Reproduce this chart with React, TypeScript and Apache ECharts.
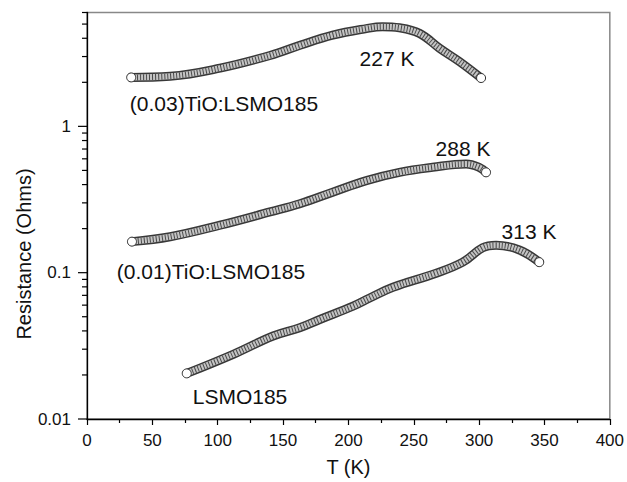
import React, { useEffect, useRef } from "react";
import * as echarts from "echarts";

// (0.03)TiO:LSMO185
const T_A = [33.8, 63.6, 101.8, 140, 162.9, 188, 213.7, 226, 239, 254.4, 269.7, 285, 301.5];
const R_A = [2.16, 2.2, 2.5, 3.05, 3.58, 4.2, 4.66, 4.8, 4.72, 4.32, 3.42, 2.77, 2.14];
// (0.01)TiO:LSMO185
const T_B = [34.4, 63.6, 101.8, 140, 162.9, 188, 213.7, 239, 264.4, 290, 300, 305.3];
const R_B = [0.163, 0.176, 0.211, 0.26, 0.296, 0.355, 0.426, 0.485, 0.525, 0.553, 0.525, 0.485];
// LSMO185
const T_C = [76.3, 111.9, 142.4, 162.8, 178.1, 203.5, 216.3, 234, 267.2, 287.5, 302.7, 313, 330.8, 346];
const R_C = [0.0205, 0.0277, 0.0369, 0.0421, 0.0479, 0.059, 0.0671, 0.0794, 0.0992, 0.118, 0.148, 0.154, 0.143, 0.118];

const X_TICKS_MIN = 0;
const X_TICKS_MAX = 400;
const X_INTERVAL = 50;
const Y_MIN = 0.01;
const Y_MAX = 6;
const Y_MAJOR = [0.01, 0.1, 1];
const Y_MINOR = [0.02, 0.03, 0.04, 0.05, 0.06, 0.07, 0.08, 0.09, 0.2, 0.3, 0.4, 0.5, 0.6, 0.7, 0.8, 0.9, 2, 3, 4, 5, 6];

const LABELS = [
  { text: "227 K", x: 387, y: 58 },
  { text: "(0.03)TiO:LSMO185", x: 224, y: 103 },
  { text: "288 K", x: 463, y: 148 },
  { text: "(0.01)TiO:LSMO185", x: 211, y: 271 },
  { text: "313 K", x: 529, y: 231 },
  { text: "LSMO185", x: 240, y: 396 },
];

const FONT = "Liberation Sans, Arial, Helvetica, sans-serif";

function pairs(t: number[], r: number[]) {
  return t.map((v, i) => [v, r[i]]);
}

function withEnds(t: number[], r: number[]) {
  const n = t.length;
  return t.map((v, i) => {
    if (i === 0 || i === n - 1) {
      return {
        value: [v, r[i]],
        symbol: "circle",
        symbolSize: 9,
        itemStyle: { color: "#fff", borderColor: "#333", borderWidth: 1 },
      };
    }
    return { value: [v, r[i]], symbol: "none" };
  });
}

function curveSeries(t: number[], r: number[]) {
  return [
    {
      type: "line",
      data: pairs(t, r),
      smooth: 0.4,
      showSymbol: false,
      lineStyle: { color: "#383838", width: 9, cap: "round" },
      silent: true,
      z: 2,
    },
    {
      type: "line",
      data: pairs(t, r),
      smooth: 0.4,
      showSymbol: false,
      lineStyle: { color: "#c4c4c4", width: 6, cap: "round" },
      silent: true,
      z: 3,
    },
    {
      type: "line",
      data: withEnds(t, r),
      smooth: 0.4,
      showSymbol: true,
      lineStyle: { color: "#4a4a4a", width: 6, type: [1, 2] },
      silent: true,
      z: 4,
    },
  ];
}

export default function App() {
  const ref = useRef<HTMLDivElement>(null);
  useEffect(() => {
    if (!ref.current) return;
    const chart = echarts.init(ref.current, undefined, { renderer: "svg" });
    const yTickData = [
      ...Y_MAJOR.map((v) => [0, v, 1]),
      ...Y_MINOR.map((v) => [0, v, 0]),
    ];
    chart.setOption({
      animation: false,
      backgroundColor: "#fff",
      grid: {
        left: 87,
        right: 16,
        top: 12.5,
        bottom: 60,
        show: true,
        borderColor: "#888",
        borderWidth: 1.5,
        backgroundColor: "transparent",
      },
      xAxis: {
        type: "value",
        min: X_TICKS_MIN,
        max: X_TICKS_MAX,
        interval: X_INTERVAL,
        name: "T (K)",
        nameLocation: "middle",
        nameGap: 38,
        nameTextStyle: { fontSize: 20, color: "#111", fontFamily: FONT },
        axisLine: { lineStyle: { color: "#000", width: 1.3 } },
        axisTick: { length: 6, lineStyle: { color: "#000", width: 1.2 } },
        minorTick: { show: true, splitNumber: 2, length: 4, lineStyle: { color: "#000", width: 1.2 } },
        splitLine: { show: false },
        axisLabel: { fontSize: 17, color: "#111", margin: 13, fontFamily: FONT },
      },
      yAxis: {
        type: "log",
        logBase: 10,
        min: Y_MIN,
        max: Y_MAX,
        axisLine: { lineStyle: { color: "#000", width: 1.3 } },
        axisTick: { show: false },
        splitLine: { show: false },
        axisLabel: {
          fontSize: 17,
          color: "#111",
          margin: 16,
          fontFamily: FONT,
          formatter: (v: number) => {
            const l = Math.log10(v);
            return Math.abs(l - Math.round(l)) < 1e-6 ? String(+v.toPrecision(3)) : "";
          },
        },
      },
      graphic: [
        ...LABELS.map((l) => ({
          type: "text",
          x: l.x,
          y: l.y,
          style: {
            text: l.text,
            fontSize: 21,
            fontFamily: FONT,
            fill: "#111",
            textAlign: "center",
            textVerticalAlign: "middle",
          },
        })),
        {
          type: "text",
          x: 24,
          y: 254,
          rotation: Math.PI / 2,
          style: {
            text: "Resistance (Ohms)",
            fontSize: 20,
            fontFamily: FONT,
            fill: "#111",
            textAlign: "center",
            textVerticalAlign: "middle",
          },
        },
      ],
      series: [
        {
          type: "custom",
          data: yTickData,
          encode: { x: 0, y: 1 },
          silent: true,
          z: 10,
          renderItem: (params: any, api: any) => {
            const p = api.coord([api.value(0), api.value(1)]);
            const len = api.value(2) ? 9 : 5;
            return {
              type: "line",
              shape: { x1: p[0] - len, y1: p[1], x2: p[0], y2: p[1] },
              style: { stroke: "#000", lineWidth: 1.2 },
            };
          },
        },
        ...curveSeries(T_A, R_A),
        ...curveSeries(T_B, R_B),
        ...curveSeries(T_C, R_C),
      ],
    });
    return () => chart.dispose();
  }, []);
  return (
    <div
      ref={ref}
      style={{ position: "fixed", left: 0, top: 0, width: 627, height: 482 }}
    />
  );
}
